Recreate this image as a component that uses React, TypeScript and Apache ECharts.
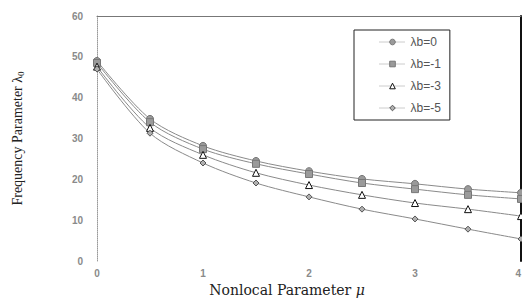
import React, { useEffect, useRef } from "react";
import * as echarts from "echarts";

const mu = [0, 0.5, 1, 1.5, 2, 2.5, 3, 3.5, 4];
const seriesNames = ["λb=0", "λb=-1", "λb=-3", "λb=-5"];
const lb0 = [49.0, 34.8, 28.2, 24.5, 22.0, 20.1, 18.9, 17.6, 16.7];
const lb1 = [48.5, 34.0, 27.4, 23.8, 21.3, 19.1, 17.6, 16.2, 15.2];
const lb3 = [47.6, 32.6, 26.0, 21.6, 18.6, 16.2, 14.2, 12.7, 11.0];
const lb5 = [47.0, 31.3, 24.0, 19.1, 15.7, 12.7, 10.3, 7.8, 5.4];
const yTicks = [0, 10, 20, 30, 40, 50, 60];
const xTicks = [0, 1, 2, 3, 4];

export default function App() {
  const ref = useRef<HTMLDivElement>(null);
  useEffect(() => {
    if (!ref.current) return;
    const chart = echarts.init(ref.current, null, { renderer: "svg" });
    const values = [lb0, lb1, lb3, lb5];
    const symbols = ["circle", "rect", "triangle", "diamond"];
    const sizes = [7, 7, 7, 6];
    const fills = ["#9a9a9a", "#9a9a9a", "#ffffff", "#b0b0b0"];
    const borders = ["#777", "#777", "#111", "#555"];
    const tickFont = {
      fontFamily: "Liberation Sans",
      fontSize: 10,
      fontWeight: "bold" as const,
      color: "#8a8a8a",
    };
    chart.setOption({
      animation: false,
      backgroundColor: "#ffffff",
      grid: { left: 97, right: 1, top: 16, bottom: 42, containLabel: false, outerBoundsMode: "none" },
      legend: {
        orient: "vertical",
        left: 354,
        top: 30,
        itemWidth: 26,
        itemHeight: 7,
        itemGap: 10,
        padding: [6, 9, 6, 25],
        borderColor: "#222",
        borderWidth: 1,
        backgroundColor: "#fff",
        data: seriesNames,
        itemStyle: { borderWidth: 1 },
        lineStyle: { width: 1, color: "#999", type: "dotted" },
        textStyle: { fontFamily: "Liberation Sans", fontSize: 12, color: "#555" },
      },
      xAxis: [
        {
          type: "value",
          min: 0,
          max: 4,
          interval: 1,
          axisLine: { show: false },
          axisTick: { show: false },
          splitLine: { show: false },
          axisLabel: {
            ...tickFont,
            margin: 7,
            showMaxLabel: true,
            showMinLabel: true,
            hideOverlap: false,
            alignMaxLabel: "right",
            formatter: (v: number) => (xTicks.includes(v) ? String(v) : ""),
          },
          name: "Nonlocal Parameter {i|μ}",
          nameLocation: "middle",
          nameGap: 22,
          nameTextStyle: {
            fontFamily: "DejaVu Serif",
            fontSize: 14,
            color: "#222",
            padding: [0, 44, 0, 0],
            rich: { i: { fontFamily: "DejaVu Serif", fontStyle: "italic", fontSize: 14, color: "#222" } },
          },
        },
        {
          type: "value",
          position: "top",
          min: 0,
          max: 4,
          interval: 1,
          axisLine: { show: true, onZero: false, lineStyle: { color: "#777", width: 1 } },
          axisTick: { show: false },
          axisLabel: { show: false },
          splitLine: { show: false },
        },
      ],
      yAxis: [
        {
          type: "value",
          min: 0,
          max: 60,
          interval: 10,
          axisLine: { show: true, onZero: false, lineStyle: { color: "#999", type: "dotted", width: 1 } },
          axisTick: { show: false },
          splitLine: { show: false },
          axisLabel: { ...tickFont, margin: 14, formatter: (v: number) => (yTicks.includes(v) ? String(v) : "") },
          name: "Frequency Parameter λ{s|0}",
          nameLocation: "middle",
          nameGap: 72,
          nameTextStyle: {
            fontFamily: "Liberation Serif",
            fontSize: 14,
            color: "#222",
            rich: {
              s: { fontFamily: "Liberation Serif", fontSize: 9, color: "#222", verticalAlign: "bottom", padding: [6, 0, 0, 0] },
            },
          },
        },
        {
          type: "value",
          position: "right",
          min: 0,
          max: 60,
          interval: 10,
          axisLine: { show: true, onZero: false, lineStyle: { color: "#111", width: 2 } },
          axisTick: { show: false },
          axisLabel: { show: false },
          splitLine: { show: false },
        },
      ],
      series: values.map((vals, i) => ({
        name: seriesNames[i],
        type: "line",
        smooth: 0.3,
        data: mu.map((m, j) => [m, vals[j]]),
        symbol: symbols[i],
        symbolSize: sizes[i],
        showSymbol: true,
        lineStyle: { color: "#8a8a8a", width: 1 },
        itemStyle: { color: fills[i], borderColor: borders[i], borderWidth: 1 },
        clip: false,
        z: 3,
      })),
    });
    return () => chart.dispose();
  }, []);
  return <div ref={ref} style={{ position: "fixed", left: 0, top: 0, width: 522, height: 303 }} />;
}
